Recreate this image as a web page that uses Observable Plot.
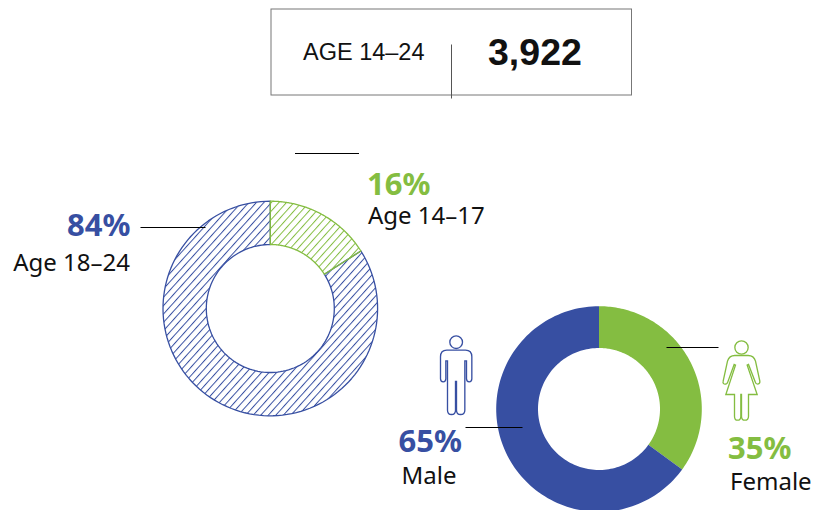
<!DOCTYPE html>
<html>
<head>
<meta charset="utf-8">
<script src="https://cdn.jsdelivr.net/npm/d3@7"></script>
<script src="https://cdn.jsdelivr.net/npm/@observablehq/plot@0.6"></script>
<style>html,body{margin:0;padding:0;background:#fff}svg{display:block}</style>
</head>
<body>
<div id="chart"></div>
<script>
const ageLabels = ["Age 14–17", "Age 18–24"];
const ageShares = [16, 84];
const genderLabels = ["Female", "Male"];
const genderShares = [35, 65];
const headerLabel = "AGE 14–24";
const headerValue = "3,922";

const BLUE = "#374fa2", GREEN = "#84bd41", INK = "#111";

// Outline of a ring slice, built from each share
function slices(shares, cx, cy, r0, r1) {
  const pie = d3.pie().sort(null)(shares);
  return pie.map(p => {
    const pts = [], n = 120;
    const a = d3.range(n + 1).map(i => p.startAngle + (p.endAngle - p.startAngle) * i / n);
    for (const t of a) pts.push({x: cx + r1 * Math.sin(t), y: cy - r1 * Math.cos(t)});
    for (const t of a.slice().reverse()) pts.push({x: cx + r0 * Math.sin(t), y: cy - r0 * Math.cos(t)});
    pts.push(pts[0]);
    return pts;
  });
}
const [ageA, ageB] = slices(ageShares, 269.8, 308, 64, 107.3);
const [genA, genB] = slices(genderShares, 598.5, 408.5, 61, 102.8);

const defsMark = () => {
  const g = d3.create("svg:g");
  const defs = g.append("defs");
  [["hatchBlue", BLUE], ["hatchGreen", GREEN]].forEach(([id, c]) => {
    const p = defs.append("pattern").attr("id", id).attr("patternUnits", "userSpaceOnUse")
      .attr("width", 5.6).attr("height", 5.6).attr("patternTransform", "rotate(42)");
    p.append("line").attr("x1", 0).attr("x2", 0).attr("y1", 0).attr("y2", 5.6)
      .attr("stroke", c).attr("stroke-width", 2);
  });
  return g.node();
};

const male = "M172 92L228 92Q247 92 247 112L247 178Q247 187 239 187Q231 187 231 178L231 124L226 124L226 272Q226 285 213 285Q201 285 201 272L201 186L198 186L198 272Q198 285 186 285Q174 285 174 272L174 124L169 124L169 178Q169 187 161 187Q153 187 153 178L153 112Q153 92 172 92Z";
const female = "M226 78L266 78Q283 78 288 95L301 155Q302 163 295 164Q289 164 287 157L267 105L263 107L293 195L267 195L267 260Q267 272 256 272Q246 272 246 260L246 195L244 195L244 260Q244 272 234 272Q225 272 225 260L225 195L199 195L228 107L224 105L205 157Q203 164 196 164Q189 163 191 155L204 95Q209 78 226 78Z";
const icon = (d, head, ox, oy, c) => () => {
  const g = d3.create("svg:g").attr("transform", `translate(${ox},${oy}) scale(${1/3})`)
    .attr("fill", "none").attr("stroke", c).attr("stroke-width", 4);
  g.append("path").attr("d", d);
  g.append("circle").attr("cx", head[0]).attr("cy", head[1]).attr("r", head[2]);
  return g.node();
};

const txt = (label, x, y, size, weight, color, anchor, family) =>
  Plot.text([label], {x: () => x, y: () => y, text: d => d, fontSize: size, fontWeight: weight,
    fill: color, textAnchor: anchor, lineAnchor: "middle", fontFamily: family});
const seg = (x1, y1, x2, y2, stroke = "#000", w = 1) =>
  Plot.link([0], {x1: () => x1, y1: () => y1, x2: () => x2, y2: () => y2, stroke, strokeWidth: w});
const ring = (pts, fill, stroke, w) =>
  Plot.line(pts, {x: "x", y: "y", fill, stroke, strokeWidth: w, curve: "linear"});

const SANS = "'Noto Sans'", HEAD = "'Liberation Sans'";
const pct = v => v + "%";

const chart = Plot.plot({
  width: 813, height: 510, margin: 0,
  x: {domain: [0, 813], range: [0, 813], axis: null},
  y: {domain: [0, 510], range: [0, 510], axis: null},
  marks: [
    defsMark,
    Plot.rect([0], {x1: () => 271, x2: () => 631.5, y1: () => 9, y2: () => 95, fill: "none", stroke: "#777", strokeWidth: 1}),
    seg(451, 44, 451, 98, "#555"),
    txt(headerLabel, 302.5, 52, 23.5, 400, INK, "start", HEAD),
    txt(headerValue, 487.5, 52, 37.5, 700, INK, "start", HEAD),
    seg(294.5, 153, 358.5, 153),
    ring(ageB, "url(#hatchBlue)", BLUE, 1.3),
    ring(ageA, "url(#hatchGreen)", GREEN, 1.3),
    seg(140, 227, 205, 227),
    ring(genA, GREEN, "none", 0),
    ring(genB, BLUE, "none", 0),
    seg(666, 347, 718, 347),
    seg(465, 427, 522, 427),
    icon(male, [200, 68, 19], 389.5, 319.5, BLUE),
    icon(female, [246, 54, 20], 659.5, 329.5, GREEN),
    txt(pct(ageShares[0]), 366.5, 184.5, 31, 700, GREEN, "start", SANS),
    txt(ageLabels[0], 367.5, 216, 24, 400, INK, "start", SANS),
    txt(pct(ageShares[1]), 130, 226, 31, 700, BLUE, "end", SANS),
    txt(ageLabels[1], 129.5, 262.5, 24, 400, INK, "end", SANS),
    txt(pct(genderShares[1]), 398, 442, 31, 700, BLUE, "start", SANS),
    txt(genderLabels[1], 401, 475.5, 24, 400, INK, "start", SANS),
    txt(pct(genderShares[0]), 727.5, 448.5, 31, 700, GREEN, "start", SANS),
    txt(genderLabels[0], 729.5, 482, 24, 400, INK, "start", SANS)
  ]
});
document.getElementById("chart").append(chart);
</script>
</body>
</html>
